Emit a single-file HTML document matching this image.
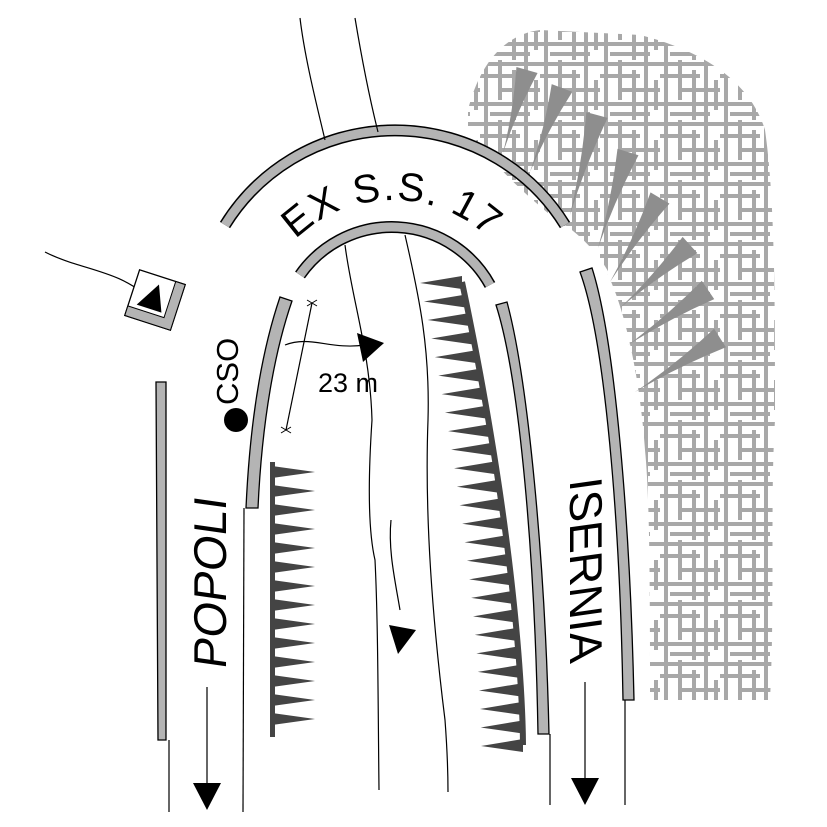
<!DOCTYPE html>
<html><head><meta charset="utf-8"><style>
html,body{margin:0;padding:0;background:#fff;width:827px;height:827px;overflow:hidden}
svg{display:block}
text{font-family:"Liberation Sans",sans-serif;fill:#000}
</style></head><body>
<svg id="s" width="827" height="827" viewBox="0 0 827 827" xmlns="http://www.w3.org/2000/svg">
<defs>
<pattern id="hatch" width="60" height="60" patternUnits="userSpaceOnUse">
<g stroke="#a8a8a8" stroke-width="4">
<line x1="0" y1="4" x2="60" y2="4"/><line x1="0" y1="16" x2="40" y2="16"/><line x1="20" y1="30" x2="60" y2="30"/><line x1="0" y1="44" x2="60" y2="44"/><line x1="10" y1="54" x2="50" y2="54"/>
<line x1="6" y1="0" x2="6" y2="60"/><line x1="20" y1="0" x2="20" y2="40"/><line x1="34" y1="10" x2="34" y2="60"/><line x1="46" y1="0" x2="46" y2="60"/><line x1="56" y1="20" x2="56" y2="50"/>
</g></pattern>
<clipPath id="blob"><path d="M468,110 C478,70 500,35 540,30 L640,35 C700,50 750,80 765,130 C775,200 775,300 775,420 C770,500 775,600 770,700 L650,700 C650,600 650,500 645,450 C640,380 625,300 600,260 C570,225 520,200 468,130 Z"/></clipPath>
</defs>
<rect x="460" y="20" width="320" height="690" fill="url(#hatch)" clip-path="url(#blob)"/>
<path d="M565,225 C580,235 600,255 610,275 L590,270 Z" fill="#fff"/>
<g id="gteeth"></g>
<!-- walls -->
<g fill="#b4b4b4" stroke="#000" stroke-width="1.3">
<path d="M225,225 A200 200 0 0 1 565,225" fill="none" stroke="#000" stroke-width="12"/>
<path d="M225,225 A200 200 0 0 1 565,225" fill="none" stroke="#b4b4b4" stroke-width="9"/>
<path d="M300,275 A112 112 0 0 1 490,285" fill="none" stroke="#000" stroke-width="12"/>
<path d="M300,275 A112 112 0 0 1 490,285" fill="none" stroke="#b4b4b4" stroke-width="9"/>
<path d="M156,382 L166,382 L166,740 L158,740 Z"/>
<path d="M280,297 L292,301 C275,350 262,420 258,508 L246,508 C250,420 262,350 280,297 Z"/>
<path d="M496,305 L507,302 C528,380 545,560 549,734 L538,734 C535,560 520,380 496,305 Z"/>
<path d="M580,272 L592,268 C615,340 630,520 634,700 L623,700 C620,520 605,340 580,272 Z"/>
</g>
<!-- thin lines -->
<g stroke="#000" stroke-width="1.2" fill="none">
<line x1="169" y1="740" x2="169" y2="812"/>
<path d="M244,508 C243,600 243,700 243,812"/>
<line x1="550" y1="734" x2="550" y2="805"/>
<line x1="625" y1="700" x2="625" y2="805"/>
<path d="M300,18 C305,60 318,110 325,140"/>
<path d="M355,18 C362,60 370,100 378,132"/>
<path d="M345,245 C352,300 370,350 372,420 C368,480 368,530 375,560 C378,620 378,700 379,790"/>
<path d="M405,235 C420,300 430,350 428,420 C425,500 430,600 445,720 C448,760 448,790 448,792"/>
<path d="M391,520 C388,550 395,580 400,610"/>
<path d="M45,252 C80,270 120,270 148,298"/>
<path d="M285,345 C310,335 330,350 365,345"/>
<line x1="312" y1="303" x2="286" y2="430"/>
<line x1="207" y1="687" x2="207" y2="785"/>
<line x1="585" y1="682" x2="585" y2="780"/>
</g>
<g stroke="#000" stroke-width="1"><path d="M307,300 L317,306 M317,300 L307,306 M281,427 L291,433 M291,427 L281,433"/></g>
<!-- arrows -->
<g fill="#000">
<polygon points="193,783 221,783 207,810"/>
<polygon points="571,778 599,778 585,805"/>
<polygon points="389,625 416,630 398,654"/>
<polygon points="357,333 384,343 363,362"/>
<circle cx="236" cy="420" r="12"/>
</g>
<g transform="translate(155,300) rotate(18)">
<rect x="-24" y="-24" width="48" height="48" fill="#fff" stroke="#000" stroke-width="1.3"/>
<path d="M-24,24 L-24,14 L14,14 L14,-24 L24,-24 L24,24 Z" fill="#b4b4b4" stroke="#000" stroke-width="1"/>
<polygon points="-16,10 10,10 -1,-16" fill="#000"/>
</g>
<!-- text -->
<text x="318" y="392" font-size="27">23 m</text>
<text transform="translate(238,405) rotate(-90)" font-size="31">CSO</text>
<text transform="translate(226,670) rotate(-90) skewX(-8)" font-size="46">POPOLI</text>
<text transform="translate(570,480) rotate(90) skewX(8)" font-size="46">ISERNIA</text>
<path id="arcT" d="M253,340 A140 140 0 0 1 533,340" fill="none"/>
<text font-size="40"><textPath href="#arcT" startOffset="112" textLength="212" lengthAdjust="spacing">EX S.S. 17</textPath></text>
</svg>
<script>
var g=document.getElementById('gteeth'),h='';
h+='<rect x="270" y="462" width="5" height="275" fill="#444"/>';
for(var y=472;y<735;y+=19){h+='<polygon points="272,'+(y-6)+' 315,'+y+' 272,'+(y+6)+'" fill="#444"/>';}
function sp(t){return [462+(1-Math.pow(1-t,1.6))*61, 282+t*463];}
var pts=[];for(var i=0;i<=40;i++){pts.push(sp(i/40).join(','));}
h+='<polyline points="'+pts.join(' ')+'" fill="none" stroke="#444" stroke-width="6"/>';
for(var i=0;i<=25;i++){var p=sp(i/25);h+='<polygon points="'+p[0]+','+(p[1]-6)+' '+(p[0]-42)+','+(p[1]+1)+' '+p[0]+','+(p[1]+7)+'" fill="#444"/>';}
// gray horns: base center (bx,by), tangent dir, tip
var gt=[[527,70,503,153],[562,88,530,172],[597,115,570,215],[628,152,598,248],[660,198,610,282],[690,245,620,308],[708,290,628,345],[720,338,635,392]];
gt.forEach(function(a,i){
 var dx=a[2]-a[0],dy=a[3]-a[1],L=Math.hypot(dx,dy),nx=-dy/L*11,ny=dx/L*11;
 var p1=[a[0]+nx,a[1]+ny],p2=[a[0]-nx,a[1]-ny];
 var m1=[(a[0]+a[2])/2+nx*0.15,(a[1]+a[3])/2+ny*0.15],m2=[(a[0]+a[2])/2-nx*0.15,(a[1]+a[3])/2-ny*0.15];
 h+='<path d="M'+p1+' Q'+m1+' '+a[2]+','+a[3]+' Q'+m2+' '+p2+' Z" fill="#8e8e8e"/>';});
g.innerHTML=h;
</script>
</body></html>
